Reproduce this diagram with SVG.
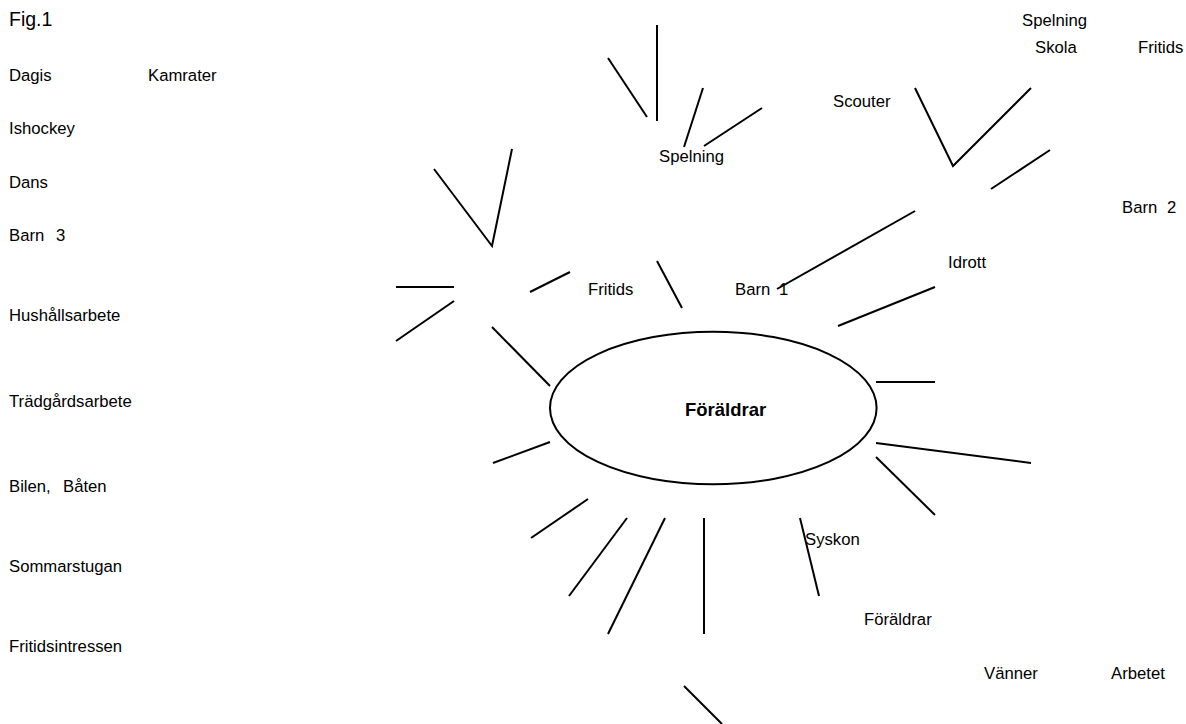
<svg xmlns="http://www.w3.org/2000/svg" width="1186" height="724" viewBox="0 0 1186 724">
<style>
  text { font-family: "Liberation Sans", Arial, sans-serif; font-size: 16.7px; fill: #000; }
  .fig { font-size: 19.5px; }
  .center { font-weight: bold; font-size: 18.5px; }
  .ln { stroke: #000; stroke-width: 2; fill: none; stroke-linecap: butt; }
  .el { stroke: #000; stroke-width: 2; fill: #fff; }
</style>
<rect width="1186" height="724" fill="#fff"/>

<g id="connectors">
  <!-- top cluster -->
  <line class="ln" x1="657" y1="25" x2="657" y2="121"/>
  <line class="ln" x1="608" y1="58" x2="647" y2="117"/>
  <line class="ln" x1="703" y1="88" x2="684" y2="147"/>
  <line class="ln" x1="762" y1="108" x2="704" y2="146"/>
  <!-- upper-left V -->
  <polyline class="ln" points="434,169 492,246 512,149"/>
  <line class="ln" x1="396" y1="287" x2="454" y2="287"/>
  <line class="ln" x1="396" y1="341" x2="454" y2="301"/>
  <line class="ln" x1="530" y1="292" x2="570" y2="272"/>
  <line class="ln" x1="657" y1="261" x2="682" y2="308"/>
  <!-- upper-right -->
  <polyline class="ln" points="915,88 953,166 1031,88"/>
  <line class="ln" x1="1050" y1="150" x2="991" y2="189"/>
  <line class="ln" x1="915" y1="211" x2="777" y2="289"/>
  <line class="ln" x1="935" y1="287" x2="838" y2="326"/>
  <!-- around ellipse -->
  <line class="ln" x1="492" y1="327" x2="550" y2="386"/>
  <line class="ln" x1="493" y1="463" x2="550" y2="442"/>
  <line class="ln" x1="876" y1="382" x2="935" y2="382"/>
  <line class="ln" x1="876" y1="443" x2="1031" y2="463"/>
  <line class="ln" x1="876" y1="457" x2="935" y2="515"/>
  <!-- bottom -->
  <line class="ln" x1="588" y1="499" x2="531" y2="538"/>
  <line class="ln" x1="627" y1="518" x2="569" y2="596"/>
  <line class="ln" x1="665" y1="518" x2="608" y2="634"/>
  <line class="ln" x1="704" y1="518" x2="704" y2="634"/>
  <line class="ln" x1="800" y1="518" x2="819" y2="596"/>
  <line class="ln" x1="684" y1="686" x2="722" y2="724"/>
</g>

<g id="node-center">
  <ellipse class="el" cx="713.3" cy="408" rx="163.3" ry="76.3"/>
  <text class="center" x="685" y="416">Föräldrar</text>
</g>

<g id="node-fig"><text class="fig" x="9" y="26">Fig.1</text></g>
<g id="node-dagis"><text x="9" y="81">Dagis</text></g>
<g id="node-kamrater"><text x="148" y="81">Kamrater</text></g>
<g id="node-ishockey"><text x="9" y="134">Ishockey</text></g>
<g id="node-dans"><text x="9" y="188">Dans</text></g>
<g id="node-barn3"><text x="9" y="241">Barn<tspan x="56">3</tspan></text></g>
<g id="node-hushall"><text x="9" y="321">Hushållsarbete</text></g>
<g id="node-tradgard"><text x="9" y="407">Trädgårdsarbete</text></g>
<g id="node-bilen"><text x="9" y="492">Bilen,<tspan x="63">Båten</tspan></text></g>
<g id="node-sommarstugan"><text x="9" y="572">Sommarstugan</text></g>
<g id="node-fritidsintressen"><text x="9" y="652">Fritidsintressen</text></g>

<g id="node-spelning1"><text x="659" y="162">Spelning</text></g>
<g id="node-fritids1"><text x="588" y="295">Fritids</text></g>
<g id="node-barn1"><text x="735" y="295">Barn<tspan x="779">1</tspan></text></g>

<g id="node-spelning2"><text x="1022" y="26">Spelning</text></g>
<g id="node-skola"><text x="1035" y="53">Skola</text></g>
<g id="node-fritids2"><text x="1138" y="53">Fritids</text></g>
<g id="node-scouter"><text x="833" y="107">Scouter</text></g>
<g id="node-barn2"><text x="1122" y="213">Barn<tspan x="1167">2</tspan></text></g>
<g id="node-idrott"><text x="948" y="268">Idrott</text></g>

<g id="node-syskon"><text x="805" y="545">Syskon</text></g>
<g id="node-foraldrar2"><text x="864" y="625">Föräldrar</text></g>
<g id="node-vanner"><text x="984" y="679">Vänner</text></g>
<g id="node-arbetet"><text x="1111" y="679">Arbetet</text></g>
</svg>
